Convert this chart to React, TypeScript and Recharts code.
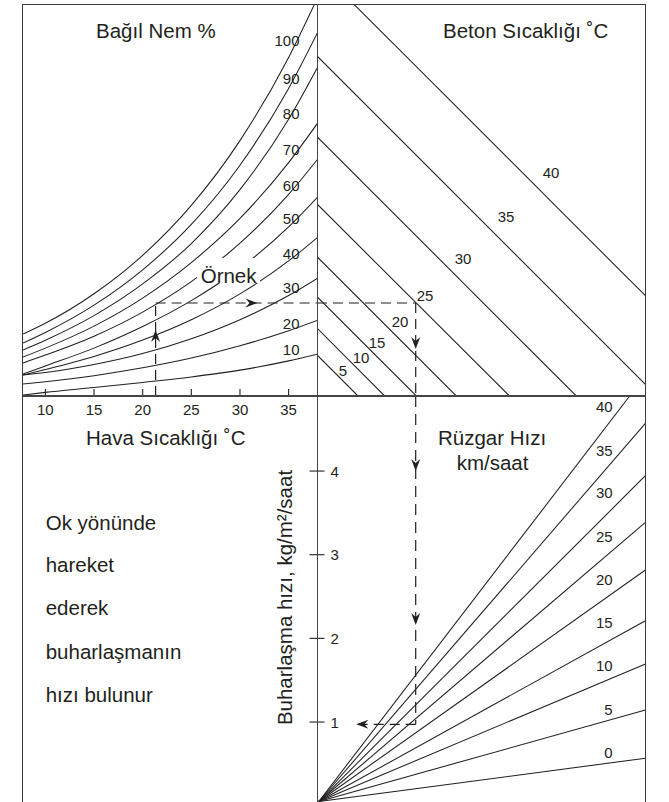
import React from "react";
import { LineChart, Line, XAxis, YAxis, ReferenceLine, ReferenceDot } from "recharts";

const INK = "#231f20";
const FONT = '"Liberation Sans", Arial, Helvetica, sans-serif';

// Sol üst: hava sıcaklığı (°C) ve bağıl nem eğrileri (buhar basıncı, kPa)
const airTemps = [7.7, 10, 15, 20, 25, 30, 35, 38];
const airTicks = [10, 15, 20, 25, 30, 35];
const humidityLevels = [10, 20, 30, 40, 50, 60, 70, 80, 90, 100];
const rh10 = [0.017, 0.06, 0.14, 0.225, 0.317, 0.43, 0.584, 0.698];
const rh20 = [0.2, 0.238, 0.338, 0.468, 0.63, 0.835, 1.085, 1.26];
const rh30 = [0.349, 0.39, 0.523, 0.705, 0.951, 1.268, 1.67, 1.96];
const rh40 = [0.349, 0.44, 0.657, 0.929, 1.268, 1.698, 2.245, 2.64];
const rh50 = [0.366, 0.5, 0.796, 1.154, 1.585, 2.123, 2.81, 3.31];
const rh60 = [0.549, 0.68, 0.994, 1.395, 1.901, 2.54, 3.353, 3.94];
const rh70 = [0.648, 0.796, 1.162, 1.628, 2.218, 2.952, 3.88, 4.54];
const rh80 = [0.765, 0.927, 1.336, 1.863, 2.535, 3.43, 4.6, 5.47];
const rh90 = [0.881, 1.057, 1.511, 2.098, 2.852, 3.837, 5.113, 6.05];
const rh100 = [1.031, 1.21, 1.7, 2.339, 3.169, 4.246, 5.628, 6.631];
const humidityCurves = [rh10, rh20, rh30, rh40, rh50, rh60, rh70, rh80, rh90, rh100];
// etiketlerin düşey konumu (kPa), sağ kenara yaslı
const humidityLabelV = [0.781, 1.205, 1.796, 2.377, 2.959, 3.5, 4.09, 4.688, 5.279, 5.902];

// Sağ üst: beton sıcaklığı doğruları (sol kenar ve taban kesişimleri)
const concreteTemps = [5, 10, 15, 20, 25, 30, 35, 40];
const concreteAtLeft = [0.682, 1.13, 1.651, 2.316, 3.192, 4.311, 5.653, 7.127];
const concreteAtBase = [0.682, 1.125, 1.651, 2.316, 3.2, 4.311, 5.653, 7.127];
const concreteLabelU = [0.361, 0.593, 0.86, 1.242, 1.658, 2.289, 3.004, 3.752];
const concreteLabelV = [0.333, 0.549, 0.798, 1.147, 1.579, 2.195, 2.893, 3.624];

// Sağ alt: rüzgar hızı doğruları, buharlaşma hızı (kg/m²/saat)
const windSpeeds = [0, 5, 10, 15, 20, 25, 30, 35, 40];
const windEndU = [5.46, 5.46, 5.46, 5.46, 5.46, 5.46, 5.46, 5.46, 5.199];
const windEndRate = [0.567, 1.144, 1.694, 2.211, 2.817, 3.387, 3.944, 4.57, 4.897];
const windLabelRate = [0.571, 1.085, 1.614, 2.124, 2.638, 3.155, 3.678, 4.183, 4.709];
const fanU = 0.03;
const fanRate = 0.05;
const rateTicks = [1, 2, 3, 4];

// Örnek
const exAir = 21.33;
const exVp = 1.546;
const exU = 1.641;
const exRate = 0.973;
const exLeftU = 0.655;

const VP_MAX = 6.5;
const U_MAX = 5.46;
const RATE_MAX = 4.897;

const noMargin = { top: 0, right: 0, bottom: 0, left: 0 };

const Arrow = ({ cx, cy, dir }: any) => {
  const rot = ({ right: 0, down: 90, left: 180, up: -90 } as any)[dir];
  return (
    <path
      transform={`translate(${cx},${cy}) rotate(${rot})`}
      d="M0,0 L-12,-4.5 L-8,0 L-12,4.5 Z"
      fill={INK}
    />
  );
};

const AirTick = ({ x, y, payload }: any) => (
  <g>
    <line x1={x} x2={x} y1={y} y2={y - 7} stroke={INK} strokeWidth={1.1} />
    <text x={x} y={y + 19} textAnchor="middle" fontSize={15} fontFamily={FONT} fill={INK}>
      {payload.value}
    </text>
  </g>
);

const RateTick = ({ x, y, payload }: any) => (
  <g>
    <line x1={x - 7.5} x2={x + 7.5} y1={y} y2={y} stroke={INK} strokeWidth={1.1} />
    <text x={x + 13.4} y={y + 5.5} fontSize={15} fontFamily={FONT} fill={INK}>
      {payload.value}
    </text>
  </g>
);

const numLabel = (txt: string, anchor: string, dy = 0) => (p: any) => (
  <text x={p.cx} y={p.cy + dy} textAnchor={anchor} fontSize={15} fontFamily={FONT} fill={INK}>
    {txt}
  </text>
);

export default function App() {
  const tlData = airTemps.map((t, i) => {
    const row: Record<string, number> = { t };
    humidityLevels.forEach((h, k) => {
      row[`rh${h}`] = humidityCurves[k][i];
    });
    return row;
  });

  const dash = { stroke: INK, strokeWidth: 1.2, strokeDasharray: "10 6" };
  const line = { stroke: INK, strokeWidth: 1.05, dot: false, isAnimationActive: false, activeDot: false };

  return (
    <div
      style={{
        position: "absolute",
        left: 0,
        top: 0,
        width: 669,
        height: 802,
        overflow: "hidden",
        background: "#fff",
        fontFamily: FONT,
      }}
    >
      {/* Sol üst */}
      <div style={{ position: "absolute", left: 22.5, top: 5 }}>
        <LineChart width={294.8} height={421} data={tlData} margin={noMargin}>
          <XAxis
            dataKey="t"
            type="number"
            domain={[7.7, 38]}
            ticks={airTicks}
            interval={0}
            height={30}
            axisLine={false}
            tickLine={false}
            tickSize={0}
            tickMargin={0}
            tick={<AirTick />}
            allowDataOverflow
          />
          <YAxis type="number" domain={[0, VP_MAX]} hide allowDataOverflow />
          {humidityLevels.map((h) => (
            <Line key={h} dataKey={`rh${h}`} type="monotone" {...line} />
          ))}
          {humidityLevels.map((h, k) => (
            <ReferenceDot
              key={`l${h}`}
              x={36.12}
              y={humidityLabelV[k]}
              r={0}
              shape={numLabel(String(h), "end", 5.5)}
            />
          ))}
          <ReferenceLine segment={[{ x: exAir, y: 0 }, { x: exAir, y: exVp }]} {...dash} />
          <ReferenceLine segment={[{ x: exAir, y: exVp }, { x: 38, y: exVp }]} {...dash} />
          <ReferenceDot x={exAir} y={1.097} r={0} shape={(p: any) => <Arrow {...p} dir="up" />} />
          <ReferenceDot x={31.8} y={exVp} r={0} shape={(p: any) => <Arrow {...p} dir="right" />} />
        </LineChart>
      </div>

      {/* Sağ üst */}
      <div style={{ position: "absolute", left: 317.3, top: 5 }}>
        <LineChart width={328.4} height={391} margin={noMargin}>
          <XAxis dataKey="u" type="number" domain={[0, U_MAX]} hide allowDataOverflow />
          <YAxis type="number" domain={[0, VP_MAX]} hide allowDataOverflow />
          {concreteTemps.map((ct, i) => (
            <Line
              key={ct}
              data={[
                { u: 0, v: concreteAtLeft[i] },
                { u: concreteAtBase[i], v: 0 },
              ]}
              dataKey="v"
              type="linear"
              {...line}
            />
          ))}
          {concreteTemps.map((ct, i) => (
            <ReferenceDot
              key={`c${ct}`}
              x={concreteLabelU[i]}
              y={concreteLabelV[i]}
              r={0}
              shape={numLabel(String(ct), "start")}
            />
          ))}
          <ReferenceLine segment={[{ x: 0, y: exVp }, { x: exU, y: exVp }]} {...dash} />
          <ReferenceLine segment={[{ x: exU, y: exVp }, { x: exU, y: 0 }]} {...dash} />
          <ReferenceDot x={exU} y={0.781} r={0} shape={(p: any) => <Arrow {...p} dir="down" />} />
        </LineChart>
      </div>

      {/* Sağ alt */}
      <div style={{ position: "absolute", left: 307.3, top: 396 }}>
        <LineChart width={338.4} height={409.7} margin={noMargin}>
          <XAxis dataKey="u" type="number" domain={[0, U_MAX]} hide allowDataOverflow />
          <YAxis
            type="number"
            domain={[0, RATE_MAX]}
            ticks={rateTicks}
            interval={0}
            width={10}
            axisLine={false}
            tickLine={false}
            tickSize={0}
            tickMargin={0}
            tick={<RateTick />}
            allowDataOverflow
          />
          {windSpeeds.map((w, i) => (
            <Line
              key={w}
              data={[
                { u: fanU, r: fanRate },
                { u: windEndU[i], r: windEndRate[i] },
              ]}
              dataKey="r"
              type="linear"
              {...line}
            />
          ))}
          {windSpeeds.map((w, i) => (
            <ReferenceDot
              key={`w${w}`}
              x={4.916}
              y={windLabelRate[i]}
              r={0}
              shape={numLabel(String(w), "end")}
            />
          ))}
          <ReferenceLine
            segment={[{ x: exU, y: RATE_MAX }, { x: exU, y: exRate }]}
            {...dash}
            strokeDasharray="11 7"
          />
          <ReferenceLine segment={[{ x: exU, y: exRate }, { x: exLeftU, y: exRate }]} {...dash} />
          <ReferenceDot x={exU} y={4.0} r={0} shape={(p: any) => <Arrow {...p} dir="down" />} />
          <ReferenceDot x={exU} y={2.16} r={0} shape={(p: any) => <Arrow {...p} dir="down" />} />
          <ReferenceDot x={exLeftU} y={exRate} r={0} shape={(p: any) => <Arrow {...p} dir="left" />} />
        </LineChart>
      </div>

      {/* Çerçeve ve ayırıcılar */}
      <div
        style={{
          position: "absolute",
          left: 21.7,
          top: 4.2,
          width: 624.8,
          height: 830,
          boxSizing: "border-box",
          border: "1.6px solid #3a3a3a",
        }}
      />
      <div style={{ position: "absolute", left: 316.65, top: 5, width: 1.3, height: 800, background: "#444" }} />
      <div style={{ position: "absolute", left: 22.5, top: 395.35, width: 623.2, height: 1.3, background: "#444" }} />

      {/* Yazılar */}
      <svg width={669} height={802} style={{ position: "absolute", left: 0, top: 0 }}>
        <g fontFamily={FONT} fontSize={20.5} fill={INK}>
          <text x={96} y={38}>Bağıl Nem %</text>
          <text x={443} y={38}>Beton Sıcaklığı ˚C</text>
          <text x={86} y={445}>Hava Sıcaklığı ˚C</text>
          <text x={438} y={445}>Rüzgar Hızı</text>
          <text x={456.7} y={470}>km/saat</text>
          <text x={45.7} y={529.5}>Ok yönünde</text>
          <text x={45.7} y={571.7}>hareket</text>
          <text x={45.7} y={615}>ederek</text>
          <text x={45.7} y={659}>buharlaşmanın</text>
          <text x={45.7} y={702.3}>hızı bulunur</text>
          <text transform="translate(291.7,597.5) rotate(-90)" textAnchor="middle">
            Buharlaşma hızı, kg/m²/saat
          </text>
          <rect x={197} y={258} width={63} height={25} fill="#fff" />
          <text x={200.7} y={283}>Örnek</text>
        </g>
      </svg>
    </div>
  );
}
